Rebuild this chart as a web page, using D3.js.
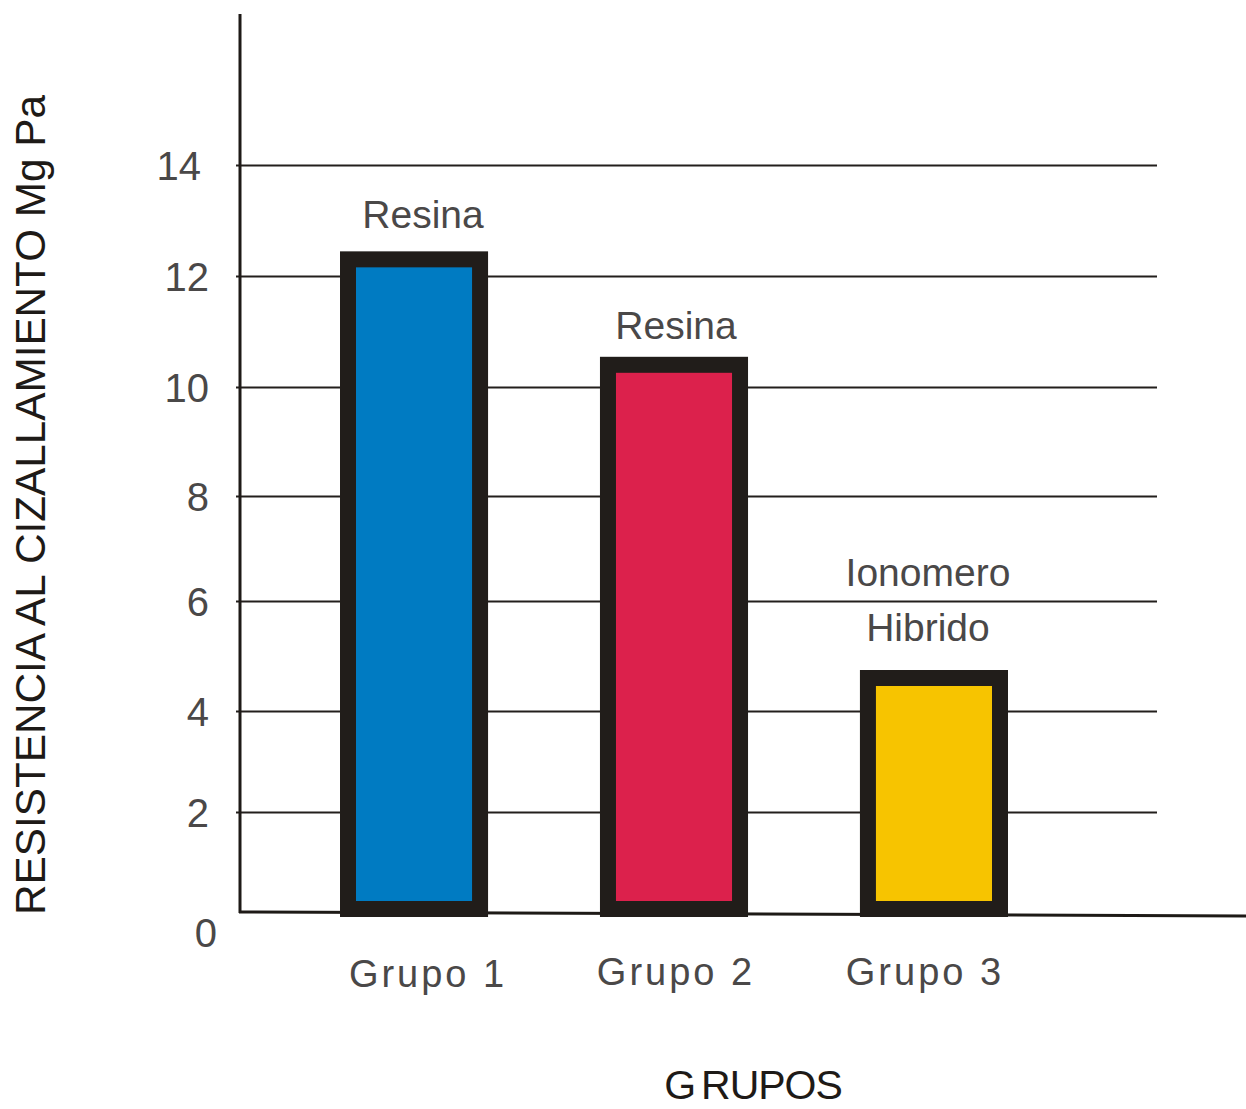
<!DOCTYPE html>
<html>
<head>
<meta charset="utf-8">
<script src="https://cdnjs.cloudflare.com/ajax/libs/d3/7.8.5/d3.min.js"></script>
<style>
  body { margin: 0; background: #fff; overflow: hidden; }
  text { font-family: "Liberation Sans", Arial, sans-serif; }
</style>
</head>
<body>
<div id="grafico"></div>
<script>
// DATOS
var grupos = ['Grupo 1', 'Grupo 2', 'Grupo 3'];
var valores = [12.3, 10.4, 4.6];
var etiquetas = [['Resina'], ['Resina'], ['Ionomero', 'Hibrido']];
var colores = ['#007bc2', '#dc214c', '#f7c400'];
var ticks_y = [0, 2, 4, 6, 8, 10, 12, 14];

var ancho = 1246, alto = 1109;
var svg = d3.select('#grafico').append('svg')
    .attr('width', ancho)
    .attr('height', alto)
    .style('display', 'block');

// ESCALAS (el grafico original esta dibujado a mano, las lineas no son equidistantes)
var scale_y = d3.scaleLinear()
    .domain(ticks_y)
    .range([912, 812, 711, 601, 496, 387, 276, 165]);

var scale_x = d3.scaleBand()
    .domain(grupos)
    .range([348, 1000])
    .paddingInner(0.492)
    .paddingOuter(0);

// lineas de la grilla
var eje_y = d3.axisLeft(scale_y).tickValues(ticks_y.slice(1)).tickSize(921).tickFormat('');
var g_grid = svg.append('g')
    .attr('transform', 'translate(1157,0)')
    .call(eje_y);
g_grid.select('.domain').remove();
g_grid.selectAll('.tick line').attr('stroke', '#231f1c').attr('stroke-width', 2);

// eje vertical
svg.append('line')
    .attr('x1', 240).attr('x2', 240)
    .attr('y1', 14).attr('y2', scale_y(0) + 1)
    .attr('stroke', '#1e1a17').attr('stroke-width', 3);

// linea base (levemente inclinada como en el original)
svg.append('line')
    .attr('x1', 239).attr('x2', ancho)
    .attr('y1', scale_y(0)).attr('y2', scale_y(0) + 4)
    .attr('stroke', '#1e1a17').attr('stroke-width', 3);

// etiquetas del eje y
svg.append('g').selectAll('text')
    .data(ticks_y)
    .enter().append('text')
    .attr('x', function (d) { return d === 14 ? 201 : (d === 0 ? 217 : 209); })
    .attr('y', function (d) { return d === 0 ? scale_y(d) + 35 : scale_y(d) + 15; })
    .attr('text-anchor', 'end')
    .attr('font-size', 40)
    .attr('fill', '#4a4848')
    .text(function (d) { return d; });

// BARRAS
svg.append('g').selectAll('rect')
    .data(valores)
    .enter().append('rect')
    .attr('x', function (d, i) { return scale_x(grupos[i]); })
    .attr('y', function (d) { return scale_y(d); })
    .attr('width', scale_x.bandwidth())
    .attr('height', function (d) { return scale_y(0) - 3 - scale_y(d); })
    .attr('fill', function (d, i) { return colores[i]; })
    .attr('stroke', '#211d1a')
    .attr('stroke-width', 16);

// etiquetas sobre las barras
var desplaza = [9, 2, -6];
var sube = [23, 18, 29];
etiquetas.forEach(function (lineas, i) {
    var cx = scale_x(grupos[i]) + scale_x.bandwidth() / 2 + desplaza[i];
    var base = scale_y(valores[i]) - 8 - sube[i];
    lineas.forEach(function (t, j) {
        svg.append('text')
            .attr('x', cx)
            .attr('y', base - (lineas.length - 1 - j) * 55)
            .attr('text-anchor', 'middle')
            .attr('font-size', 39)
            .attr('fill', '#4a4848')
            .text(t);
    });
});

// etiquetas del eje x
svg.append('g').selectAll('text')
    .data(grupos)
    .enter().append('text')
    .attr('x', function (d, i) { return scale_x(d) + scale_x.bandwidth() / 2 + [14, 2, -9][i]; })
    .attr('y', function (d, i) { return [987, 985, 985][i]; })
    .attr('text-anchor', 'middle')
    .attr('font-size', 38)
    .attr('letter-spacing', 3)
    .attr('fill', '#4a4848')
    .text(function (d) { return d; });

// TITULOS
svg.append('text')
    .attr('transform', 'translate(45,505) rotate(-90)')
    .attr('text-anchor', 'middle')
    .attr('font-size', 42)
    .attr('textLength', 820)
    .attr('lengthAdjust', 'spacingAndGlyphs')
    .attr('fill', '#1e1a17')
    .text('RESISTENCIA AL CIZALLAMIENTO Mg Pa');

var titulo_x = svg.append('text')
    .attr('x', 753)
    .attr('y', 1099)
    .attr('text-anchor', 'middle')
    .attr('font-size', 41)
    .attr('letter-spacing', -1)
    .attr('fill', '#1e1a17');
titulo_x.append('tspan').text('G');
titulo_x.append('tspan').attr('dx', 6).text('RUPOS');
</script>
</body>
</html>
